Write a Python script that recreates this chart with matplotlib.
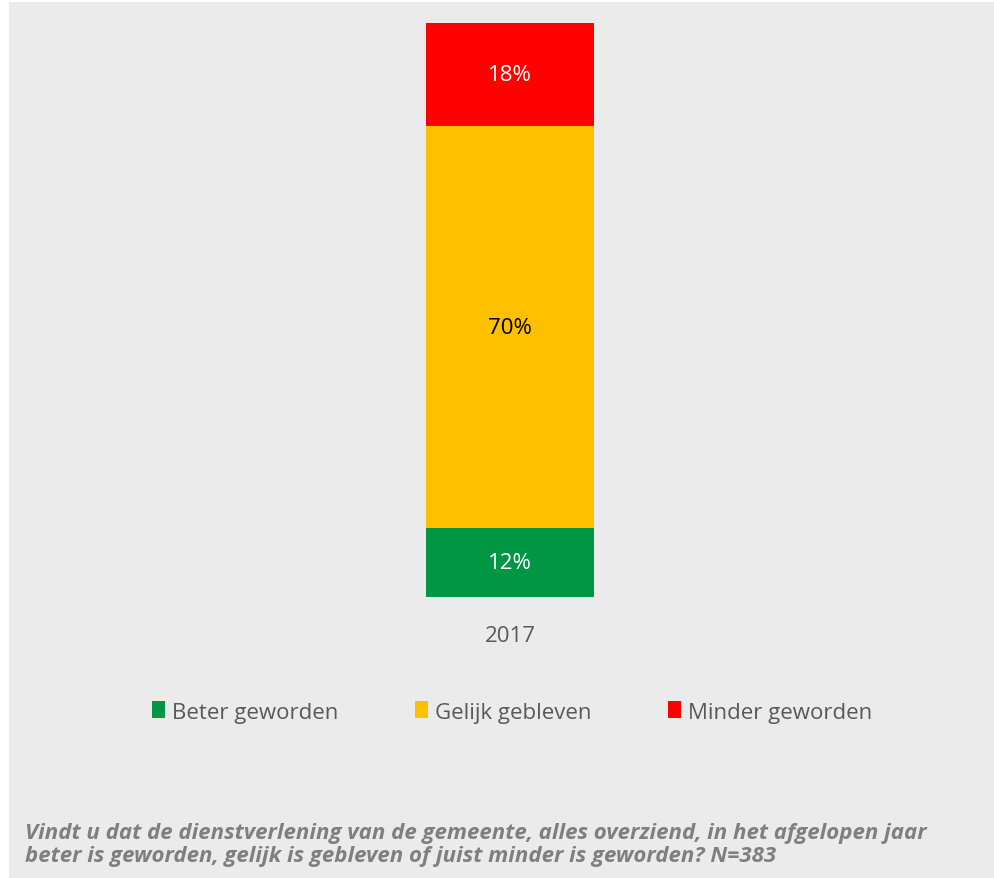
import matplotlib.pyplot as plt
from matplotlib.patches import Patch, Rectangle

years = ['2017']
categories = ['Beter geworden', 'Gelijk gebleven', 'Minder geworden']
values = [12, 70, 18]
colors = ['#009644', '#FFC000', '#FF0000']
label_colors = ['white', 'black', 'white']
caption = ('Vindt u dat de dienstverlening van de gemeente, alles overziend, in het afgelopen jaar\n'
           'beter is geworden, gelijk is gebleven of juist minder is geworden? N=383')

plt.rcParams['font.family'] = ['Open Sans', 'DejaVu Sans']

fig = plt.figure(figsize=(9.94, 8.79), dpi=100, facecolor='white')
# grey panel behind everything
fig.patches.append(Rectangle((9 / 994, 0), 1, 876 / 879, transform=fig.transFigure,
                             facecolor='#EBEBEB', edgecolor='none', zorder=-10))

ax = fig.add_axes([30 / 994, 281 / 879, 960 / 994, 574 / 879])
ax.set_facecolor('none')
ax.set_zorder(2)

bottom = 0
for cat, val, col, tc in zip(categories, values, colors, label_colors):
    ax.bar(years, [val], bottom=bottom, width=0.174, color=col, label=cat)
    ax.text(0, bottom + val / 2, f'{val}%', ha='center', va='center', fontsize=16, color=tc)
    bottom += val

ax.set_xlim(-0.5, 0.5)
ax.set_ylim(0, 100)
ax.set_yticks([])
for s in ax.spines.values():
    s.set_visible(False)
ax.tick_params(axis='x', length=0, labelsize=16, labelcolor='#595959', pad=20)

handles = [Patch(facecolor=c, edgecolor='none') for c in colors]
fig.legend(handles, categories, loc='center', bbox_to_anchor=(512 / 994, 1 - 713 / 879),
           ncol=3, frameon=False, fontsize=16, labelcolor='#595959',
           handlelength=0.6, handleheight=0.8, handletextpad=0.3, columnspacing=3.45)

fig.text(25 / 994, 1 - 845 / 879, caption, fontsize=16, fontweight='bold', fontstyle='italic',
         family=['Open Sans', 'DejaVu Sans'], color='#7F7F7F',
         va='center', ha='left', linespacing=1.1)

fig.savefig('out.png', dpi=100, facecolor=fig.get_facecolor())
